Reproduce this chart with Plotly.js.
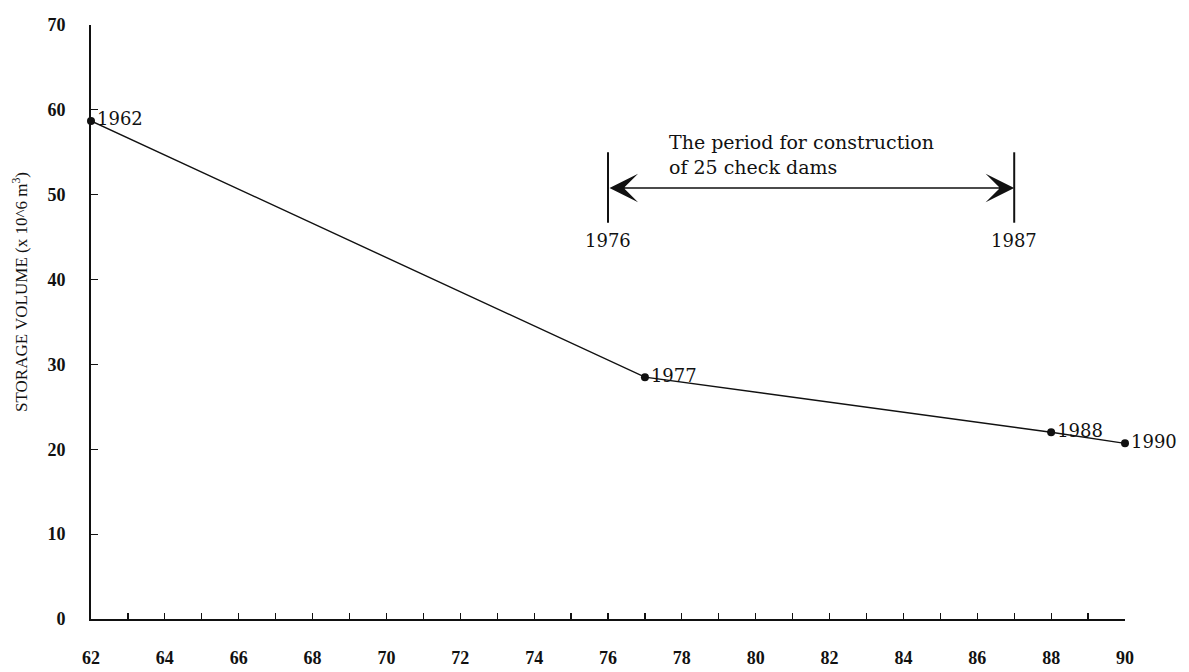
<!DOCTYPE html>
<html>
<head>
<meta charset="utf-8">
<script src="https://cdn.plot.ly/plotly-3.0.1.min.js"></script>
<style>html,body{margin:0;padding:0;background:#fff;}#chart{width:1189px;height:672px;}</style>
</head>
<body>
<div id="chart"></div>
<script>
// Data
const years = [62, 77, 88, 90];
const storage = [58.7, 28.5, 22.0, 20.7];
const pointLabels = ['1962', '1977', '1988', '1990'];

const xTickVals = [62,63,64,65,66,67,68,69,70,71,72,73,74,75,76,77,78,79,80,81,82,83,84,85,86,87,88,89,90];
const xTickText = ['62','','64','','66','','68','','70','','72','','74','','76','','78','','80','','82','','84','','86','','88','','90'];
const yTickVals = [0,10,20,30,40,50,60,70];
const yTitle = 'STORAGE VOLUME (x 10^6 m<sup>3</sup>)';

// Construction period annotation
const periodYears = [76, 87];
const periodLabels = ['1976', '1987'];
const periodNote = 'The period for construction<br>of 25 check dams';

const serif = '"DejaVu Serif", "Liberation Serif", serif';
const tickSerif = '"Liberation Serif", serif';

const traces = [{
  x: years, y: storage, text: pointLabels,
  mode: 'lines+markers+text', type: 'scatter',
  textposition: 'middle right', cliponaxis: false,
  textfont: {family: serif, size: 18, color: '#111'},
  line: {color: '#111', width: 1.4},
  marker: {color: '#111', size: 8},
  hoverinfo: 'x+y'
}];

const shapes = periodYears.map(px => ({
  type: 'line', xref: 'x', yref: 'y', x0: px, x1: px, y0: 46.7, y1: 55.0,
  line: {color: '#111', width: 2}
}));

const annotations = [
  {x: periodYears[1], y: 50.8, ax: periodYears[0], ay: 50.8, xref: 'x', yref: 'y', axref: 'x', ayref: 'y',
   text: '', showarrow: true, arrowside: 'end+start', arrowhead: 3, startarrowhead: 3,
   arrowsize: 3.4, startarrowsize: 3.4, arrowwidth: 1.4, arrowcolor: '#111'},
  {x: 77.6, y: 54.75, xref: 'x', yref: 'y', xanchor: 'left', yanchor: 'middle', align: 'left',
   text: periodNote, showarrow: false, font: {family: serif, size: 19, color: '#111'}},
  {x: periodYears[0], y: 44.6, xref: 'x', yref: 'y', text: periodLabels[0], showarrow: false,
   font: {family: serif, size: 18, color: '#111'}},
  {x: periodYears[1], y: 44.6, xref: 'x', yref: 'y', text: periodLabels[1], showarrow: false,
   font: {family: serif, size: 18, color: '#111'}},
  {x: -0.0687, y: 0.5505, xref: 'paper', yref: 'paper', textangle: -90, showarrow: false,
   xanchor: 'center', yanchor: 'middle', text: yTitle,
   font: {family: tickSerif, size: 17, color: '#111'}}
];

const layout = {
  width: 1189, height: 672,
  margin: {l: 91, r: 64, t: 25, b: 53},
  paper_bgcolor: '#fff', plot_bgcolor: '#fff',
  showlegend: false,
  xaxis: {
    range: [62, 90], tickmode: 'array', tickvals: xTickVals, ticktext: xTickText,
    ticks: 'inside', ticklen: 6, tickwidth: 1.2, tickcolor: '#111',
    showline: true, linecolor: '#111', linewidth: 2, showgrid: false, zeroline: false,
    ticklabelstandoff: 21,
    tickfont: {family: tickSerif, size: 18, color: '#111', weight: 'bold'}
  },
  yaxis: {
    range: [0, 70], tickmode: 'array', tickvals: yTickVals,
    ticks: 'inside', ticklen: 7, tickwidth: 1.2, tickcolor: '#111',
    showline: true, linecolor: '#111', linewidth: 2, showgrid: false, zeroline: false,
    ticklabelstandoff: 20,
    tickfont: {family: tickSerif, size: 18, color: '#111', weight: 'bold'}
  },
  shapes: shapes,
  annotations: annotations
};

Plotly.newPlot('chart', traces, layout, {displayModeBar: false, staticPlot: true});
</script>
</body>
</html>
